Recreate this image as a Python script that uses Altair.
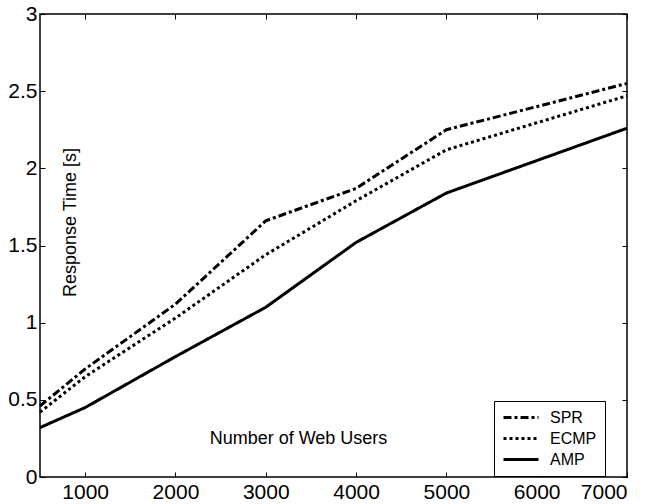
import altair as alt
import pandas as pd

users = [500, 1000, 2000, 3000, 4000, 5000, 7000]
spr = [0.46, 0.70, 1.12, 1.66, 1.87, 2.25, 2.55]
ecmp = [0.42, 0.65, 1.03, 1.44, 1.79, 2.12, 2.47]
amp = [0.32, 0.45, 0.78, 1.10, 1.52, 1.84, 2.26]
series = ["SPR", "ECMP", "AMP"]
x_ticks = [1000, 2000, 3000, 4000, 5000, 6000, 7000]
y_ticks = [0, 0.5, 1, 1.5, 2, 2.5, 3]

rows = []
for name, vals in zip(series, [spr, ecmp, amp]):
    for u, v in zip(users, vals):
        rows.append({"users": u, "time": v, "method": name})
df = pd.DataFrame(rows)

FONT = "Liberation Sans"
xs = alt.Scale(domain=[500, 7000], nice=False, zero=False)
ys = alt.Scale(domain=[0, 3], nice=False)

common = dict(domain=False, grid=False, tickSize=5, offset=-5, tickColor="black",
              tickWidth=1, labelFont=FONT, labelFontSize=21, labelColor="black")

lines = alt.Chart(df).mark_line(strokeWidth=3, color="black", strokeCap="butt").encode(
    x=alt.X("users:Q", scale=xs,
            axis=alt.Axis(orient="bottom", values=x_ticks, format="d",
                          title="Number of Web Users", titleX=258, titleY=-34,
                          titleAlign="center", titleBaseline="middle",
                          titleFont=FONT, titleFontSize=18, titleFontWeight="normal",
                          titleColor="black", labelPadding=4, **common)),
    y=alt.Y("time:Q", scale=ys,
            axis=alt.Axis(orient="left", values=y_ticks, format=".1~f",
                          title="Response Time [s]", titleX=25, titleY=208,
                          titleAngle=270, titleAlign="center", titleBaseline="middle",
                          titleFont=FONT, titleFontSize=18, titleFontWeight="normal",
                          titleColor="black", labelPadding=3, **common)),
    strokeDash=alt.StrokeDash(
        "method:N",
        scale=alt.Scale(domain=series, range=[[8, 3, 3, 3], [3, 3], [1, 0]]),
        legend=alt.Legend(orient="none", legendX=454, legendY=387, title=None,
                          strokeColor="black", fillColor="white", padding=8,
                          symbolType="stroke", symbolSize=1225, symbolStrokeWidth=3,
                          symbolStrokeColor="black", labelFont=FONT, labelFontSize=16,
                          labelColor="black", labelOffset=10, rowPadding=4,
                          clipHeight=17),
    ),
)

mirror_common = dict(domain=False, grid=False, tickSize=5, offset=-5, tickColor="black",
                     tickWidth=1, labels=False, title=None)

mirror = alt.Chart(df).mark_point(opacity=0).encode(
    x=alt.X("users:Q", scale=xs, axis=alt.Axis(orient="top", values=x_ticks, **mirror_common)),
    y=alt.Y("time:Q", scale=ys, axis=alt.Axis(orient="right", values=y_ticks, **mirror_common)),
)

chart = alt.layer(lines, mirror).resolve_axis(x="independent", y="independent").properties(
    width=587, height=463,
    padding={"left": 40, "top": 14, "right": 23, "bottom": 27},
    autosize=alt.AutoSizeParams(type="none"),
    background="white",
).configure_view(stroke="black", strokeWidth=1.5)

chart.save("out.html", embed_options={"renderer": "svg", "actions": False})
